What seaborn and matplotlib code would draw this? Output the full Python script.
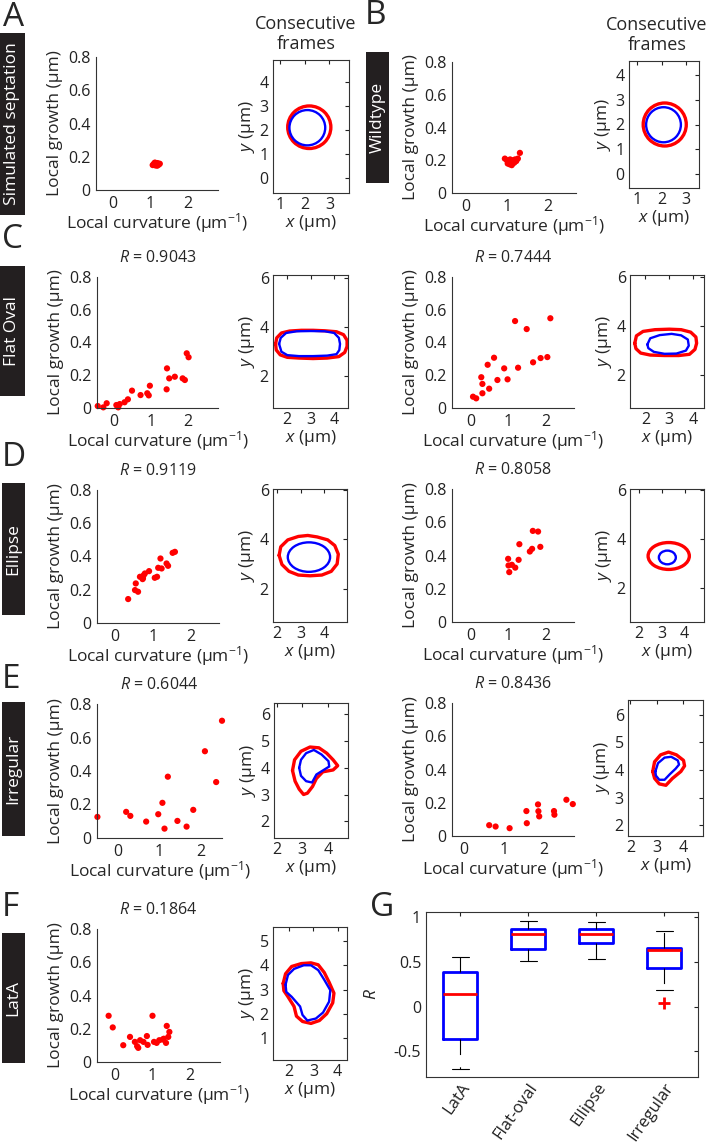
import numpy as np
import pandas as pd
import seaborn as sns
import matplotlib.pyplot as plt
from matplotlib.patches import Ellipse, Rectangle

# ---- scatter data: local curvature (1/um) vs local growth (um) ----
a_curv = [1.06, 1.1, 1.13, 1.16, 1.19, 1.22, 1.25, 1.12, 1.18, 1.09]
a_grow = [0.15, 0.16, 0.148, 0.158, 0.162, 0.152, 0.158, 0.165, 0.146, 0.155]

b_curv = [0.95, 1.0, 1.02, 1.05, 1.07, 1.1, 1.12, 1.15, 1.18, 1.2, 1.23, 1.27, 1.32, 1.08, 1.14]
b_grow = [0.21, 0.2, 0.18, 0.195, 0.175, 0.19, 0.17, 0.2, 0.185, 0.205, 0.195, 0.21, 0.245, 0.205, 0.18]

c1_curv = [-0.43, -0.28, -0.19, 0.07, 0.12, 0.16, 0.29, 0.38, 0.49, 0.72, 0.9, 0.94, 0.97,
           1.42, 1.43, 1.49, 1.64, 1.85, 1.91, 1.96, 2.01, 0.1]
c1_grow = [0.012, 0.004, 0.029, 0.018, 0.004, 0.024, 0.035, 0.053, 0.106, 0.079, 0.09, 0.077, 0.136,
           0.114, 0.242, 0.181, 0.191, 0.181, 0.171, 0.334, 0.31, 0.01]

c2_curv = [0.06, 0.145, 0.28, 0.31, 0.31, 0.49, 0.45, 0.62, 0.71, 0.89, 0.98, 1.18, 1.26,
           1.49, 1.66, 1.86, 2.04, 2.12]
c2_grow = [0.069, 0.059, 0.188, 0.147, 0.09, 0.118, 0.264, 0.307, 0.171, 0.242, 0.175, 0.531, 0.246,
           0.482, 0.279, 0.305, 0.311, 0.548]

d1_curv = [0.35, 0.53, 0.55, 0.61, 0.66, 0.73, 0.76, 0.79, 0.9, 1.05, 1.11, 1.14, 1.2, 1.23,
           1.36, 1.4, 1.52, 1.58, 0.74]
d1_grow = [0.144, 0.198, 0.238, 0.188, 0.278, 0.264, 0.288, 0.298, 0.312, 0.272, 0.278, 0.332, 0.388, 0.328,
           0.358, 0.344, 0.422, 0.428, 0.27]

d2_curv = [0.99, 1.0, 1.02, 1.09, 1.18, 1.27, 1.29, 1.57, 1.63, 1.65, 1.79, 1.85]
d2_grow = [0.38, 0.34, 0.3, 0.344, 0.327, 0.374, 0.468, 0.424, 0.44, 0.548, 0.544, 0.452]

e1_curv = [-0.49, 0.2, 0.3, 0.68, 0.97, 1.07, 1.12, 1.2, 1.43, 1.65, 1.81, 2.09, 2.36, 2.5]
e1_grow = [0.126, 0.156, 0.132, 0.098, 0.142, 0.21, 0.056, 0.366, 0.102, 0.068, 0.168, 0.518, 0.334, 0.7]

e2_curv = [0.63, 0.79, 1.14, 1.57, 1.56, 1.85, 1.86, 1.88, 2.25, 2.26, 2.56, 2.72]
e2_grow = [0.065, 0.057, 0.047, 0.077, 0.15, 0.19, 0.149, 0.118, 0.15, 0.128, 0.218, 0.192]

f_curv = [-0.17, -0.06, 0.22, 0.4, 0.53, 0.59, 0.67, 0.76, 0.85, 0.87, 1.0, 1.04, 1.11, 1.18,
          1.27, 1.36, 1.38, 1.42, 1.45, 0.62, 1.3]
f_grow = [0.278, 0.208, 0.101, 0.151, 0.121, 0.095, 0.131, 0.121, 0.156, 0.103, 0.278, 0.121, 0.115, 0.131,
          0.135, 0.115, 0.217, 0.151, 0.181, 0.085, 0.14]

r_values = ['0.9043', '0.7444', '0.9119', '0.8058', '0.6044', '0.8436', '0.1864']

# ---- cell outlines (um): red = next frame, blue = current frame ----
# circles / ellipses: centre x, centre y, width, height
a_red_ell = (2.18, 2.12, 1.76, 1.76)
a_blue_ell = (2.1, 2.1, 1.46, 1.46)
b_red_ell = (2.13, 2.0, 1.76, 1.74)
b_blue_ell = (2.08, 1.99, 1.42, 1.42)
d1_blue_ell = (3.35, 3.28, 1.8, 1.2)
d2_red_ell = (3.31, 3.32, 1.8, 1.1)
d2_blue_ell = (3.25, 3.26, 0.74, 0.56)

c1_red_x = [1.5, 1.55, 1.75, 2.1, 2.6, 3.1, 3.6, 4.1, 4.4, 4.55, 4.55, 4.45, 4.2, 3.7, 3.1, 2.5, 2.0, 1.7, 1.53]
c1_red_y = [3.3, 3.55, 3.75, 3.83, 3.86, 3.86, 3.84, 3.8, 3.68, 3.45, 3.2, 2.95, 2.78, 2.72, 2.7, 2.72, 2.75, 2.85, 3.05]
c1_blue_x = [1.65, 1.72, 1.95, 2.4, 3.0, 3.6, 4.0, 4.2, 4.25, 4.22, 4.1, 3.7, 3.1, 2.5, 2.0, 1.75]
c1_blue_y = [3.3, 3.55, 3.75, 3.82, 3.83, 3.82, 3.75, 3.55, 3.3, 3.05, 2.88, 2.82, 2.8, 2.8, 2.84, 2.98]

c2_red_x = [1.55, 1.62, 1.9, 2.4, 3.0, 3.5, 3.9, 4.12, 4.15, 4.08, 3.85, 3.4, 2.8, 2.2, 1.8, 1.6]
c2_red_y = [3.3, 3.6, 3.78, 3.85, 3.87, 3.85, 3.75, 3.55, 3.3, 3.05, 2.85, 2.8, 2.8, 2.82, 2.9, 3.08]
c2_blue_x = [2.08, 2.2, 2.6, 3.1, 3.5, 3.78, 3.82, 3.7, 3.3, 2.8, 2.35, 2.12]
c2_blue_y = [3.25, 3.5, 3.63, 3.68, 3.62, 3.45, 3.2, 3.0, 2.88, 2.87, 2.95, 3.1]

d1_red_x = [2.08, 2.15, 2.45, 2.9, 3.3, 3.7, 4.15, 4.45, 4.6, 4.55, 4.3, 3.9, 3.4, 2.9, 2.5, 2.2]
d1_red_y = [3.35, 3.7, 3.98, 4.12, 4.16, 4.1, 3.98, 3.75, 3.4, 3.0, 2.7, 2.55, 2.52, 2.55, 2.7, 2.98]

e1_red_x = [2.62, 2.7, 2.95, 3.3, 3.65, 3.95, 4.2, 4.38, 4.2, 3.8, 3.55, 3.4, 3.2, 3.05, 2.88, 2.72]
e1_red_y = [3.9, 4.3, 4.62, 4.78, 4.75, 4.55, 4.3, 4.08, 3.92, 3.85, 3.6, 3.3, 3.05, 3.0, 3.2, 3.5]
e1_blue_x = [2.88, 2.95, 3.15, 3.45, 3.75, 4.02, 4.05, 3.8, 3.55, 3.38, 3.15, 2.95]
e1_blue_y = [4.0, 4.3, 4.55, 4.67, 4.5, 4.25, 4.05, 3.9, 3.75, 3.45, 3.5, 3.7]

e2_red_x = [2.85, 2.92, 3.15, 3.45, 3.75, 4.02, 4.06, 3.92, 3.6, 3.35, 3.1, 2.92]
e2_red_y = [3.95, 4.3, 4.55, 4.65, 4.55, 4.35, 4.15, 3.95, 3.7, 3.45, 3.5, 3.7]
e2_blue_x = [2.95, 3.05, 3.3, 3.55, 3.8, 3.85, 3.72, 3.5, 3.3, 3.1, 2.97]
e2_blue_y = [3.95, 4.25, 4.45, 4.48, 4.35, 4.2, 4.05, 3.85, 3.65, 3.65, 3.8]

f_red_x = [1.75, 1.85, 2.1, 2.5, 2.9, 3.2, 3.45, 3.65, 3.85, 3.8, 3.55, 3.25, 2.9, 2.55, 2.3, 2.2, 1.95, 1.78]
f_red_y = [3.25, 3.65, 3.95, 4.07, 4.1, 4.02, 3.7, 3.3, 2.85, 2.45, 2.0, 1.72, 1.6, 1.68, 1.9, 2.3, 2.7, 2.95]
f_blue_x = [1.85, 1.95, 2.2, 2.6, 2.9, 3.2, 3.45, 3.7, 3.65, 3.4, 3.1, 2.75, 2.55, 2.45, 2.1, 1.88]
f_blue_y = [3.2, 3.6, 3.85, 4.0, 4.0, 3.8, 3.4, 2.97, 2.5, 2.05, 1.8, 1.72, 1.95, 2.3, 2.7, 2.9]

# ---- panel G: box plot summary of R ----
g_groups = ['LatA', 'Flat-oval', 'Ellipse', 'Irregular']
g_whislo = [-0.70, 0.51, 0.53, 0.18]
g_q1 = [-0.36, 0.64, 0.71, 0.43]
g_med = [0.145, 0.81, 0.81, 0.63]
g_q3 = [0.39, 0.87, 0.875, 0.66]
g_whishi = [0.56, 0.96, 0.945, 0.85]
g_fliers = [[], [], [], [0.04]]

sns.set_style('white')
plt.rcParams['font.family'] = ['Open Sans', 'DejaVu Sans']
plt.rcParams['mathtext.fontset'] = 'custom'
plt.rcParams['mathtext.rm'] = 'Open Sans'
plt.rcParams['mathtext.it'] = 'Open Sans:italic'
plt.rcParams['font.size'] = 11
plt.rcParams['axes.edgecolor'] = '#333333'
plt.rcParams['axes.linewidth'] = 0.8

LABEL_FS = 12.5
TICK_FS = 11.5

W, H = 712, 1144
fig = plt.figure(figsize=(W / 100, H / 100), dpi=100)


def add_ax(l, t, r, b):
    return fig.add_axes([l / W, 1 - b / H, (r - l) / W, (b - t) / H])


def scatter_panel(box, curv, grow, xlim, r_text=None):
    ax = add_ax(*box)
    df = pd.DataFrame({'curv': curv, 'grow': grow})
    sns.scatterplot(data=df, x='curv', y='grow', ax=ax, color='red', s=20,
                    edgecolor='none', linewidth=0, clip_on=False)
    ax.set_xlim(xlim)
    ax.set_ylim(0, 0.8)
    ax.set_xticks([0, 1, 2])
    ax.set_xticklabels(['0', '1', '2'])
    ax.set_yticks([0, 0.2, 0.4, 0.6, 0.8])
    ax.set_yticklabels(['0', '0.2', '0.4', '0.6', '0.8'])
    ax.spines['top'].set_visible(False)
    ax.spines['right'].set_visible(False)
    ax.tick_params(direction='in', length=2, labelsize=TICK_FS, pad=4, colors='#222222')
    ax.set_xlabel('Local curvature (µm$^{-1}$)', fontsize=LABEL_FS, labelpad=0)
    ax.set_ylabel('Local growth (µm)', fontsize=LABEL_FS, labelpad=4)
    if r_text:
        ax.annotate('$R$ = ' + r_text, xy=(0.5, 1), xycoords='axes fraction',
                    xytext=(0, 14), textcoords='offset points',
                    ha='center', va='center', fontsize=11.5)
    return ax


def outline(ax, xs, ys, color, lw):
    sns.lineplot(x=list(xs) + [xs[0]], y=list(ys) + [ys[0]], sort=False, estimator=None,
                 color=color, lw=lw, ax=ax, solid_joinstyle='round', solid_capstyle='round')


def ellipse(ax, ell, color, lw):
    ax.add_patch(Ellipse((ell[0], ell[1]), ell[2], ell[3], fill=False, edgecolor=color, lw=lw))


def shape_panel(box, xlim, ylim, xticks, yticks):
    ax = add_ax(*box)
    ax.set_xlim(xlim)
    ax.set_ylim(ylim)
    ax.set_xticks(xticks)
    ax.set_yticks(yticks)
    ax.tick_params(direction='in', length=3, top=True, right=True, labelsize=TICK_FS, pad=3,
                   colors='#222222')
    ax.set_xlabel('$x$ (µm)', fontsize=LABEL_FS, labelpad=0)
    ax.set_ylabel('$y$ (µm)', fontsize=LABEL_FS, labelpad=2)
    return ax


def frames_title(ax, xfrac):
    ax.annotate('Consecutive\nframes', xy=(xfrac, 1), xycoords='axes fraction',
                xytext=(0, 5), textcoords='offset points', ha='center', va='bottom',
                fontsize=13, linespacing=1.15)


RED_LW, BLUE_LW = 2.4, 1.7

# ---- row A / B ----
scatter_panel((96, 57, 218, 190), a_curv, a_grow, (-0.45, 2.8))
ax = shape_panel((273, 60, 349, 193), (0.7, 3.8), (-0.6, 4.9), [1, 2, 3], [0, 1, 2, 3, 4])
ellipse(ax, a_red_ell, 'red', RED_LW)
ellipse(ax, a_blue_ell, 'blue', BLUE_LW)
frames_title(ax, 0.43)

scatter_panel((452, 62, 576, 193), b_curv, b_grow, (-0.35, 2.7))
ax = shape_panel((629, 61, 699, 188), (0.67, 3.53), (-0.57, 4.57), [1, 2, 3], [0, 1, 2, 3, 4])
ellipse(ax, b_red_ell, 'red', RED_LW)
ellipse(ax, b_blue_ell, 'blue', BLUE_LW)
frames_title(ax, 0.4)

# ---- row C ----
scatter_panel((97, 277, 218, 408), c1_curv, c1_grow, (-0.45, 2.8), r_values[0])
ax = shape_panel((273, 275, 348, 408), (1.39, 4.59), (0.67, 6.13), [2, 3, 4], [2, 4, 6])
outline(ax, c1_red_x, c1_red_y, 'red', RED_LW)
outline(ax, c1_blue_x, c1_blue_y, 'blue', BLUE_LW)

scatter_panel((452, 277, 574, 408), c2_curv, c2_grow, (-0.5, 2.75), r_values[1])
ax = shape_panel((630, 275, 704, 408), (1.35, 4.46), (0.67, 6.07), [2, 3, 4], [2, 4, 6])
outline(ax, c2_red_x, c2_red_y, 'red', RED_LW)
outline(ax, c2_blue_x, c2_blue_y, 'blue', BLUE_LW)

# ---- row D ----
scatter_panel((97, 490, 219, 623), d1_curv, d1_grow, (-0.47, 2.74), r_values[2])
ax = shape_panel((273, 489, 347, 622), (1.82, 4.97), (0.64, 6.05), [2, 3, 4], [2, 4, 6])
outline(ax, d1_red_x, d1_red_y, 'red', RED_LW)
ellipse(ax, d1_blue_ell, 'blue', BLUE_LW)

scatter_panel((452, 489, 574, 622), d2_curv, d2_grow, (-0.51, 2.75), r_values[3])
ax = shape_panel((630, 489, 704, 622), (1.62, 4.85), (0.62, 6.06), [2, 3, 4], [2, 4, 6])
ellipse(ax, d2_red_ell, 'red', RED_LW)
ellipse(ax, d2_blue_ell, 'blue', BLUE_LW)

# ---- row E ----
scatter_panel((97, 704, 222, 838), e1_curv, e1_grow, (-0.5, 2.5), r_values[4])
ax = shape_panel((274, 703, 348, 838), (1.9, 4.78), (1.37, 6.43), [2, 3, 4], [2, 3, 4, 5, 6])
outline(ax, e1_red_x, e1_red_y, 'red', RED_LW)
outline(ax, e1_blue_x, e1_blue_y, 'blue', BLUE_LW)

scatter_panel((452, 703, 574, 836), e2_curv, e2_grow, (-0.3, 2.75), r_values[5])
ax = shape_panel((628, 700, 703, 836), (1.91, 4.76), (1.62, 6.53), [2, 3, 4], [2, 3, 4, 5, 6])
outline(ax, e2_red_x, e2_red_y, 'red', RED_LW)
outline(ax, e2_blue_x, e2_blue_y, 'blue', BLUE_LW)

# ---- row F ----
scatter_panel((97, 929, 220, 1062), f_curv, f_grow, (-0.48, 2.8), r_values[6])
ax = shape_panel((273, 927, 347, 1060), (1.33, 4.39), (0.09, 5.58), [2, 3, 4], [1, 2, 3, 4, 5])
outline(ax, f_red_x, f_red_y, 'red', RED_LW)
outline(ax, f_blue_x, f_blue_y, 'blue', BLUE_LW)

# ---- panel G ----
ax = add_ax(426, 912, 698, 1077)
stats = []
for i in range(len(g_groups)):
    stats.append({'label': g_groups[i], 'whislo': g_whislo[i], 'q1': g_q1[i], 'med': g_med[i],
                  'q3': g_q3[i], 'whishi': g_whishi[i], 'fliers': g_fliers[i]})
ax.bxp(stats, positions=[1, 2, 3, 4], widths=0.5, capwidths=0.25, showfliers=True,
       boxprops=dict(color='blue', lw=2),
       medianprops=dict(color='red', lw=2),
       whiskerprops=dict(color='black', lw=0.8, ls=(0, (14, 11))),
       capprops=dict(color='black', lw=0.8),
       flierprops=dict(marker='+', markeredgecolor='red', markersize=8, markeredgewidth=2))
ax.set_xlim(0.5, 4.5)
ax.set_ylim(-0.79, 1.06)
ax.set_yticks([-0.5, 0, 0.5, 1])
ax.set_yticklabels(['-0.5', '0', '0.5', '1'])
ax.set_xticks([1, 2, 3, 4])
ax.set_xticklabels(g_groups, rotation=55, ha='right', rotation_mode='anchor')
ax.tick_params(direction='in', length=3, top=True, right=True, labelsize=TICK_FS, colors='#222222')
ax.tick_params(axis='x', labelsize=12, pad=2)
ax.set_ylabel('$R$', fontsize=LABEL_FS, labelpad=10)

# ---- panel letters ----
letters = ['A', 'B', 'C', 'D', 'E', 'F', 'G']
letter_pos = [(3, 17), (365, 16), (2, 239), (2, 457), (2, 680), (2, 907), (370, 908)]
for lab, (lx, ly) in zip(letters, letter_pos):
    fig.text(lx / W, 1 - ly / H, lab, fontsize=24, ha='left', va='center')

# ---- black condition labels ----
cond_names = ['Simulated septation', 'Wildtype', 'Flat Oval', 'Ellipse', 'Irregular', 'LatA']
cond_boxes = [(0, 33, 25, 215), (366, 52, 389, 183), (0, 266, 25, 396), (2, 483, 25, 615),
              (2, 702, 25, 836), (2, 933, 25, 1063)]
for name, (l, t, r, b) in zip(cond_names, cond_boxes):
    fig.patches.append(Rectangle((l / W, 1 - b / H), (r - l) / W, (b - t) / H,
                                 transform=fig.transFigure, facecolor='#231f20', edgecolor='none'))
    fig.text((l + r) / 2 / W, 1 - (t + b) / 2 / H, name, rotation=90, color='white',
             fontsize=12.5, ha='center', va='center')

fig.savefig('out.png', dpi=100)
